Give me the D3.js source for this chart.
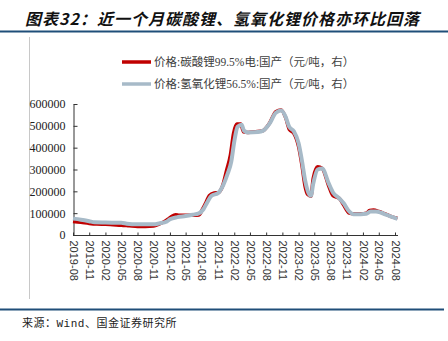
<!DOCTYPE html>
<html><head><meta charset="utf-8">
<script src="https://cdn.jsdelivr.net/npm/d3@7"></script>
<style>
html,body{margin:0;padding:0;background:#fff;}
svg{display:block;}
</style></head>
<body>
<svg id="chart" width="448" height="341"></svg>
<script>
// ---- data ----
const carbonateDates = ["2019-08-01","2019-09-15","2019-11-01","2019-12-15","2020-02-01","2020-03-15","2020-05-01","2020-06-15","2020-08-01","2020-09-15","2020-11-01","2020-12-01","2021-01-01","2021-01-20","2021-02-10","2021-03-05","2021-03-25","2021-05-01","2021-06-15","2021-07-15","2021-08-05","2021-08-25","2021-09-12","2021-10-10","2021-11-01","2021-11-25","2021-12-20","2022-01-10","2022-01-28","2022-02-15","2022-03-10","2022-03-25","2022-04-20","2022-06-01","2022-07-10","2022-08-20","2022-09-25","2022-10-25","2022-11-20","2022-12-10","2023-01-05","2023-02-01","2023-02-20","2023-03-10","2023-03-25","2023-04-12","2023-04-25","2023-05-20","2023-06-15","2023-07-20","2023-08-15","2023-09-20","2023-10-15","2023-11-15","2023-12-10","2024-01-20","2024-02-20","2024-03-10","2024-04-01","2024-05-01","2024-06-01","2024-07-01","2024-08-15"];
const carbonateValues = [62000,58000,53000,50000,49000,47000,45000,42000,39000,39000,41000,50000,62000,72000,85000,93000,90000,90000,90000,92000,118000,150000,180000,192000,194000,221000,298000,366000,466000,508000,508000,473000,470000,473000,476000,512000,565000,573000,536000,484000,466000,405000,320000,222000,185000,178000,260000,313000,305000,229000,180000,168000,137000,100000,97000,97000,100000,112000,114000,108000,98000,88000,76000];

const hydroxideDates = ["2019-08-01","2019-09-15","2019-11-01","2019-12-01","2020-02-01","2020-05-01","2020-06-01","2020-08-01","2020-11-01","2020-12-01","2021-01-15","2021-02-01","2021-03-15","2021-05-01","2021-06-10","2021-07-15","2021-08-10","2021-09-01","2021-09-25","2021-11-01","2021-12-01","2021-12-25","2022-01-15","2022-02-01","2022-02-20","2022-03-15","2022-03-28","2022-04-20","2022-06-15","2022-07-15","2022-08-20","2022-09-25","2022-10-25","2022-11-20","2022-12-10","2023-01-05","2023-02-01","2023-02-20","2023-03-10","2023-03-28","2023-04-12","2023-04-25","2023-05-20","2023-06-15","2023-07-20","2023-08-15","2023-09-20","2023-10-15","2023-11-15","2023-12-10","2024-01-20","2024-02-20","2024-03-15","2024-04-15","2024-05-15","2024-06-15","2024-07-15","2024-08-15"];
const hydroxideValues = [75000,70000,63000,58000,57000,56000,52000,49000,49000,53000,62000,72000,82000,87000,93000,99000,118000,150000,180000,192000,230000,280000,336000,428000,496000,505000,478000,470000,472000,478000,510000,560000,570000,540000,495000,475000,420000,340000,250000,195000,180000,235000,300000,305000,240000,195000,168000,145000,108000,95000,95000,97000,108000,108000,102000,92000,83000,74000];

const xTickLabels = ["2019-08","2019-11","2020-02","2020-05","2020-08","2020-11","2021-02","2021-05","2021-08","2021-11","2022-02","2022-05","2022-08","2022-11","2023-02","2023-05","2023-08","2023-11","2024-02","2024-05","2024-08"];
const yTicks = [0,100000,200000,300000,400000,500000,600000];
const seriesNames = ["价格:碳酸锂99.5%电:国产（元/吨，右）","价格:氢氧化锂56.5%:国产（元/吨，右）"];
const titleText = "图表32：近一个月碳酸锂、氢氧化锂价格亦环比回落";
const sourceText = "来源：Wind、国金证券研究所";

// ---- drawing ----
const svg = d3.select("#chart");
const parse = d3.timeParse("%Y-%m-%d");
const parseM = d3.timeParse("%Y-%m");

const x = d3.scaleTime().domain([parseM("2019-08"), parseM("2024-08")]).range([73, 395]);
const y = d3.scaleLinear().domain([0, 600000]).range([235, 104]);

// title
svg.append("text").attr("x", 25).attr("y", 25)
  .attr("font-family", "'Noto Sans CJK SC'").attr("font-size", 16)
  .attr("font-weight", "bold").attr("font-style", "italic")
  .attr("letter-spacing", 1).attr("fill", "#111").text(titleText);

// rules
svg.append("line").attr("x1", 0).attr("x2", 448).attr("y1", 31.5).attr("y2", 31.5)
  .attr("stroke", "#1f4e79").attr("stroke-width", 2);
svg.append("line").attr("x1", 0).attr("x2", 444).attr("y1", 309.5).attr("y2", 309.5)
  .attr("stroke", "#1f4e79").attr("stroke-width", 2);
svg.append("line").attr("x1", 29.5).attr("x2", 29.5).attr("y1", 37).attr("y2", 299)
  .attr("stroke", "#c8c8c8").attr("stroke-width", 1);

// y axis
const yAxis = d3.axisLeft(y).tickValues(yTicks).tickSize(-4).tickSizeOuter(0).tickPadding(8)
  .tickFormat(d3.format("d"));
const gy = svg.append("g").attr("transform", "translate(73.5,0)").call(yAxis);
gy.selectAll("text").attr("font-family", "'Liberation Serif'").attr("font-size", 12).attr("fill", "#222");
gy.selectAll("line,path").attr("stroke", "#333");

// x axis
const xAxis = d3.axisBottom(x).tickValues(xTickLabels.map(parseM)).tickSize(-3).tickSizeOuter(0)
  .tickFormat(d3.timeFormat("%Y-%m"));
const gx = svg.append("g").attr("transform", "translate(0,235.5)").call(xAxis);
gx.select(".domain").attr("d", "M73,0H398");
gx.selectAll("line,path").attr("stroke", "#333");
gx.selectAll("text")
  .attr("font-family", "'Liberation Sans'").attr("font-size", 11).attr("fill", "#333")
  .attr("transform", "rotate(90)").attr("x", 5).attr("y", 0).attr("dy", "0.35em")
  .style("text-anchor", "start");

// lines
const line = d3.line().x(d => x(d[0])).y(d => y(d[1])).curve(d3.curveMonotoneX);
const carb = carbonateDates.map((d, i) => [parse(d), carbonateValues[i]]);
const hyd = hydroxideDates.map((d, i) => [parse(d), hydroxideValues[i]]);
svg.append("path").datum(carb).attr("d", line).attr("fill", "none")
  .attr("stroke", "#c00000").attr("stroke-width", 3.5).attr("stroke-linejoin", "round");
svg.append("path").datum(hyd).attr("d", line).attr("fill", "none")
  .attr("stroke", "#a7bac8").attr("stroke-width", 4).attr("stroke-linejoin", "round");

// legend
const colors = ["#c00000", "#a7bac8"];
const leg = svg.append("g");
seriesNames.forEach((n, i) => {
  const ly = 62 + i * 22;
  leg.append("line").attr("x1", 122).attr("x2", 151).attr("y1", ly).attr("y2", ly)
    .attr("stroke", colors[i]).attr("stroke-width", 3.5);
  leg.append("text").attr("x", 154).attr("y", ly + 4)
    .attr("font-family", "'Liberation Serif','Noto Sans CJK SC'").attr("font-size", 11.5)
    .attr("fill", "#404040").text(n);
});

// source
svg.append("text").attr("x", 22).attr("y", 327)
  .attr("font-family", "'Liberation Mono','Noto Sans CJK SC'").attr("font-size", 11)
  .attr("letter-spacing", 0.5).attr("fill", "#222").text(sourceText);
</script>
</body></html>
